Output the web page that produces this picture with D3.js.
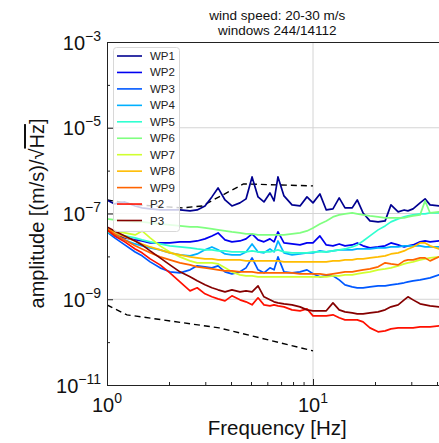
<!DOCTYPE html>
<html><head><meta charset="utf-8">
<script src="https://cdn.jsdelivr.net/npm/d3@7"></script>
<style>
body{margin:0;background:#fff}
svg{display:block;font-family:"Liberation Sans",Arial,Helvetica,sans-serif}
</style>
</head><body>
<svg id="c" width="439" height="443"></svg>
<script>
// ---------- data ----------
const freq = [1.00,1.09,1.22,1.37,1.48,1.62,1.81,2.02,2.26,2.53,2.74,2.99,3.23,3.46,3.74,4.04,4.42,4.73,5.06,5.41,5.78,6.18,6.47,6.76,7.23,7.91,8.65,9.35,10.0,10.8,11.6,12.5,13.4,14.3,15.5,16.4,17.5,18.9,20.7,22.4,23.9,25.9,27.7,28.9,30.6,33.1,35.0,37.0,40.9,44.7];

const seriesNames = ["WP1","WP2","WP3","WP4","WP5","WP6","WP7","WP8","WP9","P2","P3"];
const seriesColors = ["#000090","#0000f0","#0058ff","#00b0ff","#30ffd0","#80ff80","#d0ff30","#ffbc00","#ff6400","#ff1000","#850000"];

const wp1 = [2.07e-7,1.67e-7,1.86e-7,1.50e-7,1.35e-7,1.28e-7,1.21e-7,1.21e-7,1.21e-7,1.15e-7,1.21e-7,1.50e-7,2.44e-7,3.95e-7,2.07e-7,1.50e-7,1.77e-7,2.19e-7,7.13e-7,2.44e-7,1.86e-7,3.02e-7,1.97e-7,7.13e-7,2.57e-7,1.59e-7,1.50e-7,2.44e-7,1.77e-7,2.86e-7,1.21e-7,1.28e-7,2.31e-7,1.35e-7,1.35e-7,2.07e-7,1.03e-7,6.72e-8,6.37e-8,6.72e-8,1.59e-7,1.09e-7,1.21e-7,1.15e-7,1.28e-7,1.77e-7,2.19e-7,1.59e-7,1.50e-7,1.42e-7];
const wp2 = [3.72e-8,3.17e-8,2.70e-8,2.42e-8,2.29e-8,2.06e-8,2.06e-8,2.06e-8,2.18e-8,2.18e-8,2.29e-8,2.56e-8,3.00e-8,3.53e-8,2.42e-8,2.18e-8,2.29e-8,2.56e-8,3.34e-8,2.42e-8,2.18e-8,2.56e-8,2.18e-8,3.72e-8,2.06e-8,1.95e-8,1.85e-8,2.06e-8,2.06e-8,3.00e-8,1.85e-8,1.76e-8,1.95e-8,1.76e-8,1.85e-8,2.06e-8,1.76e-8,1.58e-8,1.66e-8,1.76e-8,2.06e-8,1.85e-8,1.66e-8,1.76e-8,1.85e-8,2.18e-8,2.29e-8,2.18e-8,2.29e-8,2.29e-8];
const wp3 = [3.72e-8,2.70e-8,1.85e-8,1.27e-8,1.03e-8,7.45e-9,5.40e-9,4.36e-9,4.13e-9,4.85e-9,6.01e-9,5.70e-9,5.40e-9,6.01e-9,4.36e-9,3.92e-9,4.36e-9,5.40e-9,9.22e-9,4.85e-9,4.13e-9,5.40e-9,4.85e-9,9.73e-9,4.36e-9,4.13e-9,4.36e-9,4.85e-9,3.92e-9,3.34e-9,3.52e-9,3.52e-9,2.83e-9,2.17e-9,1.95e-9,1.85e-9,1.85e-9,1.95e-9,2.05e-9,2.05e-9,2.17e-9,2.29e-9,2.42e-9,2.55e-9,2.69e-9,2.83e-9,2.99e-9,3.16e-9,3.71e-9,3.92e-9];
const wp4 = [3.72e-8,3.00e-8,2.42e-8,1.95e-8,1.76e-8,1.58e-8,1.42e-8,1.21e-8,1.08e-8,1.03e-8,1.14e-8,1.42e-8,1.66e-8,1.42e-8,1.14e-8,1.08e-8,1.08e-8,1.27e-8,1.95e-8,1.27e-8,1.21e-8,1.49e-8,1.27e-8,2.29e-8,1.21e-8,1.08e-8,1.14e-8,1.21e-8,1.21e-8,1.34e-8,1.27e-8,1.34e-8,1.42e-8,1.42e-8,1.42e-8,1.49e-8,1.49e-8,1.49e-8,1.58e-8,1.58e-8,1.66e-8,1.66e-8,1.76e-8,1.76e-8,1.76e-8,1.76e-8,1.66e-8,1.66e-8,1.66e-8,1.66e-8];
const wp5 = [3.72e-8,3.34e-8,3.00e-8,2.70e-8,2.42e-8,2.18e-8,1.95e-8,1.76e-8,1.66e-8,1.58e-8,1.49e-8,1.42e-8,1.42e-8,1.34e-8,1.34e-8,1.27e-8,1.27e-8,1.27e-8,1.34e-8,1.27e-8,1.27e-8,1.27e-8,1.34e-8,1.42e-8,1.27e-8,1.21e-8,1.21e-8,1.21e-8,1.27e-8,1.27e-8,1.27e-8,1.34e-8,1.42e-8,1.49e-8,1.66e-8,1.85e-8,2.29e-8,3.00e-8,4.15e-8,5.14e-8,6.37e-8,7.48e-8,8.33e-8,8.79e-8,9.28e-8,9.79e-8,9.79e-8,1.03e-7,1.03e-7,1.03e-7];
const wp6 = [7.48e-8,7.09e-8,6.72e-8,6.37e-8,6.37e-8,6.03e-8,5.72e-8,5.42e-8,5.14e-8,4.87e-8,4.87e-8,4.61e-8,4.38e-8,4.15e-8,3.93e-8,3.72e-8,3.53e-8,3.34e-8,3.34e-8,3.17e-8,3.17e-8,3.17e-8,3.17e-8,3.17e-8,3.17e-8,3.34e-8,3.53e-8,3.93e-8,4.61e-8,5.72e-8,6.72e-8,8.33e-8,9.28e-8,9.79e-8,1.03e-7,9.79e-8,9.28e-8,8.79e-8,8.33e-8,7.89e-8,7.89e-8,7.89e-8,7.89e-8,8.33e-8,8.79e-8,9.28e-8,1.97e-7,1.03e-7,1.09e-7,1.09e-7];
const wp7 = [4.38e-8,3.93e-8,3.53e-8,3.17e-8,3.93e-8,2.70e-8,1.76e-8,1.27e-8,9.73e-9,7.86e-9,7.06e-9,7.06e-9,7.06e-9,6.69e-9,5.40e-9,4.36e-9,3.71e-9,3.52e-9,3.52e-9,3.34e-9,3.34e-9,3.34e-9,3.34e-9,3.34e-9,3.34e-9,3.34e-9,3.34e-9,3.34e-9,3.34e-9,3.34e-9,3.34e-9,3.52e-9,3.52e-9,3.71e-9,3.71e-9,3.92e-9,4.13e-9,4.36e-9,4.85e-9,5.12e-9,5.40e-9,6.01e-9,6.69e-9,7.06e-9,7.45e-9,8.29e-9,8.74e-9,9.22e-9,9.73e-9,9.73e-9];
const wp8 = [4.38e-8,3.72e-8,2.84e-8,2.29e-8,1.95e-8,1.66e-8,1.42e-8,1.21e-8,1.08e-8,9.73e-9,9.22e-9,8.74e-9,8.74e-9,8.29e-9,8.29e-9,8.29e-9,8.29e-9,7.86e-9,7.86e-9,7.86e-9,7.86e-9,7.86e-9,7.86e-9,7.86e-9,7.45e-9,7.45e-9,7.45e-9,7.45e-9,7.45e-9,7.45e-9,7.45e-9,7.86e-9,7.86e-9,8.29e-9,8.29e-9,8.74e-9,8.74e-9,9.22e-9,9.73e-9,1.03e-8,1.14e-8,1.21e-8,1.34e-8,1.49e-8,1.66e-8,2.06e-8,2.06e-8,1.76e-8,1.49e-8,1.49e-8];
const wp9 = [4.38e-8,3.34e-8,2.42e-8,1.76e-8,1.49e-8,1.21e-8,9.73e-9,8.29e-9,7.06e-9,6.34e-9,5.70e-9,5.40e-9,5.12e-9,4.85e-9,4.60e-9,4.60e-9,4.36e-9,4.36e-9,4.36e-9,4.13e-9,4.13e-9,4.13e-9,4.13e-9,4.13e-9,4.13e-9,4.13e-9,3.92e-9,3.92e-9,3.92e-9,3.92e-9,3.71e-9,3.92e-9,4.13e-9,4.36e-9,4.36e-9,4.60e-9,4.85e-9,5.12e-9,5.70e-9,7.06e-9,6.69e-9,6.34e-9,7.86e-9,8.29e-9,8.29e-9,9.22e-9,9.22e-9,7.86e-9,9.73e-9,9.73e-9];
const p2 = [4.15e-8,3.00e-8,2.18e-8,1.49e-8,1.21e-8,8.74e-9,6.34e-9,4.13e-9,2.55e-9,1.57e-9,1.85e-9,1.34e-9,1.14e-9,1.02e-9,9.18e-10,1.20e-9,9.68e-10,8.70e-10,7.40e-10,1.08e-9,7.40e-10,7.01e-10,7.40e-10,7.01e-10,6.65e-10,5.66e-10,5.37e-10,5.97e-10,4.10e-10,4.10e-10,4.10e-10,4.33e-10,3.69e-10,3.31e-10,3.31e-10,3.31e-10,2.97e-10,2.15e-10,1.74e-10,1.83e-10,2.04e-10,2.15e-10,2.15e-10,2.15e-10,2.15e-10,2.27e-10,2.27e-10,2.27e-10,2.40e-10,2.40e-10];
const p3 = [4.87e-8,3.93e-8,3.00e-8,2.29e-8,1.85e-8,1.34e-8,9.22e-9,6.34e-9,4.36e-9,3.34e-9,2.69e-9,2.17e-9,1.85e-9,1.66e-9,1.49e-9,1.66e-9,1.49e-9,1.57e-9,1.49e-9,2.05e-9,1.14e-9,9.68e-10,8.70e-10,8.24e-10,7.81e-10,7.40e-10,6.65e-10,5.66e-10,5.37e-10,5.37e-10,5.37e-10,8.24e-10,5.66e-10,5.09e-10,4.82e-10,4.57e-10,4.57e-10,4.82e-10,5.09e-10,5.66e-10,6.65e-10,7.40e-10,9.68e-10,1.14e-9,9.68e-10,7.81e-10,7.40e-10,7.01e-10,6.65e-10,6.65e-10];

const dashUpperFreq = [1.0,1.4,2.3,2.9,3.5,4.6,10.0];
const dashUpperVal  = [2.07e-7,1.59e-7,1.35e-7,1.50e-7,2.44e-7,4.90e-7,4.40e-7];
const dashLowerFreq = [1.0,1.25,3.5,10.0];
const dashLowerVal  = [7.40e-10,4.33e-10,2.15e-10,6.27e-11];

const xMajorTicks = [1,10];
const xMajorExp = ["0","1"];
const xMinorTicks = [2,3,4,5,6,7,8,9,20,30,40];
const yMajorTicks = [1e-3,1e-5,1e-7,1e-9,1e-11];
const yMajorExp = ["\u22123","\u22125","\u22127","\u22129","\u221211"];
const yMinorTicks = [1e-4,1e-6,1e-8,1e-10];
const titleLines = ["wind speed: 20-30 m/s","windows 244/14112"];
const xLabel = "Frequency [Hz]";

// ---------- chart ----------
const seriesValues = [wp1,wp2,wp3,wp4,wp5,wp6,wp7,wp8,wp9,p2,p3];
const svg = d3.select("#c");
const L = 107, T = 42, B = 385;
const x = d3.scaleLog().domain([1,45]).range([L, L + 206*Math.log10(45)]);
const y = d3.scaleLog().domain([1e-11,1e-3]).range([B, T]);
const R = x.range()[1];

svg.append("defs").append("clipPath").attr("id","pc")
  .append("rect").attr("x",L).attr("y",T).attr("width",R-L).attr("height",B-T);

// grid
const grid = svg.append("g").attr("stroke","#d4d4d4").attr("stroke-width",1);
[1e-5,1e-7,1e-9].forEach(v=>{
  grid.append("line").attr("x1",L).attr("x2",R).attr("y1",y(v)).attr("y2",y(v));
});
grid.append("line").attr("x1",x(10)).attr("x2",x(10)).attr("y1",T).attr("y2",B);

// lines
const line = d3.line().x(d=>x(d[0])).y(d=>y(d[1]));
const plot = svg.append("g").attr("clip-path","url(#pc)");
plot.append("path").datum(dashUpperFreq.map((f,i)=>[f,dashUpperVal[i]]))
  .attr("d",line).attr("fill","none").attr("stroke","#000").attr("stroke-width",1.4).attr("stroke-dasharray","6,4");
plot.append("path").datum(dashLowerFreq.map((f,i)=>[f,dashLowerVal[i]]))
  .attr("d",line).attr("fill","none").attr("stroke","#000").attr("stroke-width",1.4).attr("stroke-dasharray","6,4");
seriesValues.forEach((vals,k)=>{
  plot.append("path").datum(freq.map((f,i)=>[f,vals[i]]))
    .attr("d",line).attr("fill","none").attr("stroke",seriesColors[k])
    .attr("stroke-width",1.7).attr("stroke-linejoin","round");
});

// axes
const ax = svg.append("g");
ax.append("g").attr("transform",`translate(0,${B})`)
  .call(d3.axisBottom(x).tickValues(xMajorTicks).tickSize(-6).tickSizeOuter(0).tickFormat(""));
ax.append("g").attr("transform",`translate(0,${B})`)
  .call(d3.axisBottom(x).tickValues(xMinorTicks).tickSize(-3).tickSizeOuter(0).tickFormat(""));
ax.append("g").attr("transform",`translate(${L},0)`)
  .call(d3.axisLeft(y).tickValues(yMajorTicks).tickSize(-6).tickSizeOuter(0).tickFormat(""));
ax.append("g").attr("transform",`translate(${L},0)`)
  .call(d3.axisLeft(y).tickValues(yMinorTicks).tickSize(-3).tickSizeOuter(0).tickFormat(""));
ax.selectAll("path,line").attr("stroke","#222");
svg.append("line").attr("x1",L).attr("x2",R).attr("y1",T+0.5).attr("y2",T+0.5).attr("stroke","#222");

// tick labels
xMajorTicks.forEach((v,i)=>{
  const t = svg.append("text").attr("x",x(v)).attr("y",412).attr("text-anchor","middle")
    .attr("font-size",20).attr("fill","#111");
  t.append("tspan").text("10");
  t.append("tspan").attr("dy",-9).attr("font-size",14).text(xMajorExp[i]);
});
yMajorTicks.forEach((v,i)=>{
  const t = svg.append("text").attr("x",101).attr("y",y(v)+7.5).attr("text-anchor","end")
    .attr("font-size",20).attr("fill","#111");
  t.append("tspan").text("10");
  t.append("tspan").attr("dy",-9).attr("font-size",14).text(yMajorExp[i]);
});

// axis labels
svg.append("text").attr("x",(L+R)/2).attr("y",435).attr("text-anchor","middle")
  .attr("font-size",20.5).attr("fill","#111").text(xLabel);
const yl = svg.append("text").attr("transform",`translate(44,${(T+B)/2}) rotate(-90)`)
  .attr("text-anchor","middle").attr("font-size",20).attr("fill","#111");
yl.append("tspan").text("amplitude [(m/s)/\u221A");
yl.append("tspan").style("text-decoration","overline").text("Hz");
yl.append("tspan").text("]");

// title
titleLines.forEach((s,i)=>{
  svg.append("text").attr("x",(L+R)/2).attr("y",20+i*15).attr("text-anchor","middle")
    .attr("font-size",13.5).attr("fill","#111").text(s);
});

// legend
const lg = svg.append("g");
lg.append("rect").attr("x",113.5).attr("y",47.5).attr("width",66).attr("height",184).attr("rx",3)
  .attr("fill","#fff").attr("fill-opacity",0.8).attr("stroke","#d8d8d8");
seriesNames.forEach((n,i)=>{
  const yy = 56 + i*16.45;
  lg.append("line").attr("x1",117).attr("x2",142).attr("y1",yy).attr("y2",yy)
    .attr("stroke",seriesColors[i]).attr("stroke-width",1.6);
  lg.append("text").attr("x",150).attr("y",yy+4).attr("font-size",11.5).attr("fill","#222").text(n);
});
</script>
</body></html>
